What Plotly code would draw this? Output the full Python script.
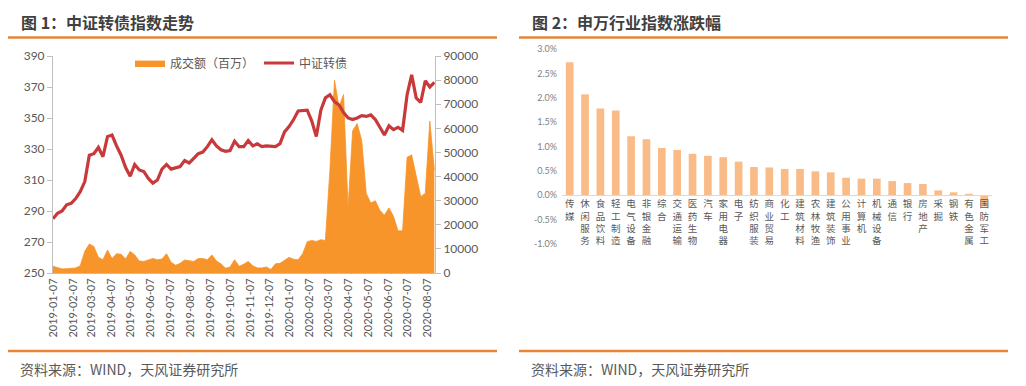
import pandas as pd
import plotly.graph_objects as go

# ---------------- data: figure 1 ----------------
start_date = "2019-01-07"
n_weeks = 85
index_vals = [285, 288.5, 290, 294, 295, 298, 302.5, 309, 326, 327, 331, 325, 338, 339, 332,
              326, 318, 312.5, 320, 316.5, 315.5, 311, 308, 310, 317, 320, 317, 318, 318.7,
              322.5, 321, 324, 327, 328, 331.5, 336, 332, 329.5, 328.5, 329, 335, 331.5,
              331.5, 335.5, 332,
              333.3, 331.6, 332, 331.6, 331.6, 333.5, 341, 344.5, 349, 354.5, 354.5, 355,
              348, 338, 355, 363, 365, 360.6, 358.4, 353.5, 350, 349, 350, 351.5, 351, 352,
              349, 344, 339, 345, 342.5, 344, 342, 365, 377.8, 363, 360, 374, 370, 373]
volume_vals = [2800, 2200, 1700, 1800, 1900, 2100, 3000, 9000, 12000, 11000, 6500, 5500, 9500,
               6000, 8000, 7800, 5800, 9000, 7500, 5000, 4800, 5400, 6000, 5500, 5800, 8000,
               4500, 3200, 4000, 5400, 5200, 4800, 6000, 6000, 5500, 7500, 5000, 3800, 2000,
               2500, 5500, 2800, 3600, 4800, 3000,
               2100, 2100, 2500, 1500, 3800, 4000, 5300, 6500, 5700, 5500, 8000, 13000, 13500,
               13100, 13800, 13500, 42800, 80000, 69000, 74000, 27000, 59000, 62000, 55000,
               33000, 29000, 30000, 26000, 24000, 27000, 23500, 17500, 17500, 48000, 49000,
               40000, 31700, 33000, 63000, 42800]
x_tick_labels = ["2019-01-07", "2019-02-07", "2019-03-07", "2019-04-07", "2019-05-07",
                 "2019-06-07", "2019-07-07", "2019-08-07", "2019-09-07", "2019-10-07",
                 "2019-11-07", "2019-12-07", "2020-01-07", "2020-02-07", "2020-03-07",
                 "2020-04-07", "2020-05-07", "2020-06-07", "2020-07-07", "2020-08-07"]
left_ticks = [250, 270, 290, 310, 330, 350, 370, 390]
right_ticks = [0, 10000, 20000, 30000, 40000, 50000, 60000, 70000, 80000, 90000]

# ---------------- data: figure 2 ----------------
industries = ["传媒", "休闲服务", "食品饮料", "轻工制造", "电气设备", "非银金融", "综合",
              "交通运输", "医药生物", "汽车", "家用电器", "电子", "纺织服装", "商业贸易",
              "化工", "建筑材料", "农林牧渔", "建筑装饰", "公用事业", "计算机", "机械设备",
              "通信", "银行", "房地产", "采掘", "钢铁", "有色金属", "国防军工"]
changes = [2.73, 2.07, 1.78, 1.74, 1.21, 1.15, 0.97, 0.93, 0.85, 0.81, 0.78, 0.69, 0.58,
           0.57, 0.54, 0.54, 0.49, 0.47, 0.36, 0.34, 0.34, 0.29, 0.25, 0.23, 0.10, 0.06,
           0.03, -0.23]
pct_tickvals = [-1.0, -0.5, 0.0, 0.5, 1.0, 1.5, 2.0, 2.5, 3.0]
pct_ticktext = ["-1.0%", "-0.5%", "0.0%", "0.5%", "1.0%", "1.5%", "2.0%", "2.5%", "3.0%"]

# ---------------- styles ----------------
ORANGE = "#F7942A"
RED = "#C8393C"
PEACH = "#F9BC88"
AXIS = "#BFBFBF"
TXT = "#595959"
RULE = "#E0893D"
CJK = "Noto Sans CJK SC"
LAT = "Lato, Noto Sans CJK SC"

W, H = 1026, 386


def px_x(p):
    return p / W


def px_y(p):
    return 1 - p / H


dates = pd.date_range(start_date, periods=n_weeks, freq="7D")

fig = go.Figure()
fig.add_trace(go.Scatter(x=dates, y=volume_vals, name="成交额（百万）", mode="lines",
                         fill="tozeroy", fillcolor=ORANGE,
                         line=dict(color=ORANGE, width=0.8),
                         xaxis="x", yaxis="y"))
fig.add_trace(go.Scatter(x=dates, y=index_vals, name="中证转债", mode="lines",
                         line=dict(color=RED, width=3.2),
                         xaxis="x", yaxis="y2"))
fig.add_trace(go.Bar(x=industries, y=changes, marker=dict(color=PEACH, line=dict(width=0)),
                     width=0.5, showlegend=False, xaxis="x3", yaxis="y3"))

fig.update_layout(
    width=W, height=H,
    margin=dict(l=0, r=0, t=0, b=0, autoexpand=False),
    paper_bgcolor="white", plot_bgcolor="white",
    showlegend=True,
    legend=dict(orientation="h", x=px_x(130), y=px_y(63), xanchor="left", yanchor="middle",
                font=dict(family=CJK, size=12, color=TXT), bgcolor="rgba(0,0,0,0)",
                itemwidth=30, tracegroupgap=0),
    xaxis=dict(domain=[px_x(53), px_x(435)], type="date", anchor="y",
               range=[start_date, "2020-08-18"],
               tickvals=pd.to_datetime(x_tick_labels), ticktext=x_tick_labels,
               tickangle=-90, tickfont=dict(family=LAT, size=11, color=TXT),
               showline=True, linecolor=AXIS, linewidth=1, ticks="",
               showgrid=False, zeroline=False, automargin=False),
    yaxis=dict(domain=[px_y(273), px_y(56)], range=[0, 90000], side="right", anchor="x",
               tickvals=right_ticks, ticktext=[str(v) for v in right_ticks],
               tickfont=dict(family=LAT, size=12, color=TXT),
               showline=True, linecolor=AXIS, linewidth=1, ticks="outside", ticklen=5,
               tickcolor=AXIS, showgrid=False, zeroline=False, automargin=False),
    yaxis2=dict(overlaying="y", range=[250, 390], side="left", anchor="x",
                tickvals=left_ticks, ticktext=[str(v) for v in left_ticks],
                tickfont=dict(family=LAT, size=12, color=TXT),
                showline=True, linecolor=AXIS, linewidth=1, ticks="outside", ticklen=5,
                tickcolor=AXIS, showgrid=False, zeroline=False, automargin=False),
    xaxis3=dict(domain=[px_x(562), px_x(992)], type="category", anchor="free",
                position=px_y(195), range=[-0.5, len(industries) - 0.5],
                tickvals=industries, ticktext=["<br>".join(s) for s in industries],
                tickangle=0, tickfont=dict(family=CJK, size=9.5, color=TXT),
                showline=True, linecolor="#D9D9D9", linewidth=1, ticks="",
                showgrid=False, zeroline=False, automargin=False),
    yaxis3=dict(domain=[px_y(244), px_y(49)], range=[-1.0, 3.0], anchor="x3",
                tickvals=pct_tickvals, ticktext=pct_ticktext,
                tickfont=dict(family=LAT, size=9, color="#7F7F7F"),
                showline=False, ticks="", showgrid=False, zeroline=False,
                ticklabelstandoff=4, automargin=False),
    bargap=0.5,
)

shapes = []
for x0, x1 in [(8, 497), (519, 1008)]:
    shapes.append(dict(type="line", xref="paper", yref="paper",
                       x0=px_x(x0), x1=px_x(x1), y0=px_y(37.5), y1=px_y(37.5),
                       line=dict(color=RULE, width=2.5)))
    shapes.append(dict(type="line", xref="paper", yref="paper",
                       x0=px_x(x0), x1=px_x(x1), y0=px_y(351), y1=px_y(351),
                       line=dict(color="#EC8533", width=2.5)))
fig.update_layout(shapes=shapes)

annotations = [
    dict(text="<b>图 1：中证转债指数走势</b>", x=px_x(19), y=px_y(22)),
    dict(text="<b>图 2：申万行业指数涨跌幅</b>", x=px_x(530), y=px_y(22)),
    dict(text="资料来源：WIND，天风证券研究所", x=px_x(18), y=px_y(369), size=14),
    dict(text="资料来源：WIND，天风证券研究所", x=px_x(529), y=px_y(369), size=14),
]
for a in annotations:
    fig.add_annotation(text=a["text"], x=a["x"], y=a["y"], xref="paper", yref="paper",
                       xanchor="left", yanchor="middle", showarrow=False,
                       font=dict(family=CJK, size=a.get("size", 16),
                                 color="#404040" if "size" not in a else TXT))

fig.write_html("out.html", config={"displayModeBar": False},
               post_script="document.body.style.margin='0px';document.body.style.padding='0px';")
